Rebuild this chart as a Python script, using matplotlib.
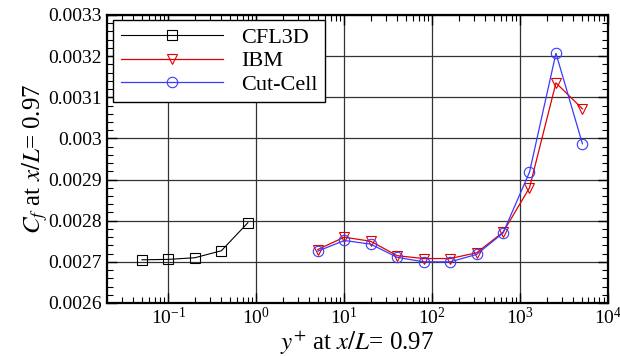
import matplotlib
matplotlib.use("Agg")
import matplotlib.pyplot as plt
from matplotlib.ticker import LogLocator, MultipleLocator, FuncFormatter, NullFormatter

plt.rcParams["font.family"] = "Liberation Serif"
plt.rcParams["mathtext.fontset"] = "stix"

# CFL3D grid-convergence points
cfl3d_yplus = [0.05, 0.1, 0.2, 0.4, 0.8]
cfl3d_cf = [0.002705, 0.002706, 0.002710, 0.002727, 0.002795]

# IBM and Cut-Cell share the same y+ sweep
ibm_yplus = [5, 10, 20, 40, 80, 160, 320, 640, 1280, 2560, 5120]
ibm_cf = [0.002730, 0.002760, 0.002750, 0.002715, 0.002708, 0.002708,
          0.002722, 0.002772, 0.002880, 0.003135, 0.003072]
cut_cf = [0.002726, 0.002752, 0.002743, 0.002711, 0.002700, 0.002700,
          0.002718, 0.002770, 0.002918, 0.003207, 0.002987]

y_ticks = [0.0026, 0.0027, 0.0028, 0.0029, 0.003, 0.0031, 0.0032, 0.0033]

fig = plt.figure(figsize=(6.2, 3.56), dpi=100)
ax = fig.add_axes([0.1726, 0.1489, 0.808, 0.809])

ax.plot(cfl3d_yplus, cfl3d_cf, color="black", lw=0.8, marker="s", ms=6.5,
        mfc="none", mec="black", mew=0.8, label="CFL3D", zorder=3)
ax.plot(ibm_yplus, ibm_cf, color="#e00000", lw=0.9, marker="v", ms=7.5,
        mfc="none", mec="#e00000", mew=0.8, label="IBM", zorder=3)
ax.plot(ibm_yplus, cut_cf, color="#3a3aff", lw=0.9, marker="o", ms=7.5,
        mfc="none", mec="#3a3aff", mew=0.8, label="Cut-Cell", zorder=3)

ax.set_xscale("log")
ax.set_xlim(0.02, 1e4)
ax.set_ylim(0.0026, 0.0033)
ax.set_yticks(y_ticks)
ax.yaxis.set_major_formatter(FuncFormatter(lambda v, p: "%g" % v))
ax.yaxis.set_minor_locator(MultipleLocator(0.00002))
ax.xaxis.set_major_locator(LogLocator(base=10, numticks=10))
ax.xaxis.set_minor_locator(LogLocator(base=10, subs=range(2, 10), numticks=20))
ax.xaxis.set_minor_formatter(NullFormatter())

ax.grid(True, which="major", color="#333333", lw=0.9)
ax.tick_params(which="both", direction="in", top=True, right=True, labelsize=14)
ax.tick_params(which="major", length=7, width=1.0)
ax.tick_params(which="minor", length=4, width=0.8)
ax.tick_params(axis="x", pad=3)
for s in ax.spines.values():
    s.set_linewidth(1.6)

ax.set_xlabel(r"$y^{+}$ at $x/L$= 0.97", fontsize=18, labelpad=0)
ax.set_ylabel(r"$C_f$ at $x/L$= 0.97", fontsize=18, labelpad=-1)

leg = ax.legend(loc="upper left", bbox_to_anchor=(0.012, 0.983), borderaxespad=0,
                fontsize=16, fancybox=False, framealpha=1, edgecolor="black",
                handlelength=4.6, handletextpad=0.8, labelspacing=0.12,
                borderpad=0.35)
leg.get_frame().set_linewidth(1.0)
leg.set_zorder(5)

fig.savefig("out.png", dpi=100)
